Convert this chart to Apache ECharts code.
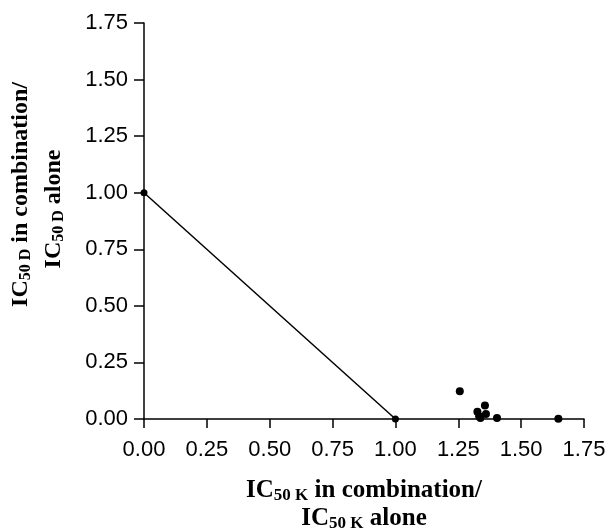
<!DOCTYPE html>
<html><head><meta charset="utf-8">
<script src="https://cdn.jsdelivr.net/npm/echarts@6/dist/echarts.min.js"></script>
<style>html,body{margin:0;padding:0;background:#fff}#c{width:609px;height:531px}</style>
</head><body><div id="c"></div>
<script>
var additivityLine = [[0, 1], [1, 0]];
var combX = [1.256, 1.356, 1.326, 1.360, 1.333, 1.338, 1.404, 1.648];
var combY = [0.123, 0.060, 0.032, 0.022, 0.012, 0.004, 0.004, 0.001];
var pts = combX.map(function(x, i){ return [x, combY[i]]; });
var serif = 'Liberation Serif';
function richFor(fs, lh, tailPad) {
  return {
    a: {fontFamily: serif, fontWeight: 'bold', fontSize: fs, color: '#000', lineHeight: lh},
    s: {fontFamily: serif, fontWeight: 'bold', fontSize: Math.round(fs * 0.67), color: '#000', lineHeight: lh, padding: [10, 0, 0, 0]},
    t: {fontFamily: serif, fontWeight: 'bold', fontSize: fs, color: '#000', lineHeight: lh, padding: [0, tailPad, 0, 0]}
  };
}
var chart = echarts.init(document.getElementById('c'));
chart.setOption({
  animation: false,
  grid: {left: 144, right: 25, top: 23, bottom: 112, containLabel: false, outerBoundsMode: 'none'},
  xAxis: {
    type: 'value', min: 0, max: 1.75, interval: 0.25,
    axisLine: {lineStyle: {color: '#000', width: 1.5}},
    axisTick: {length: 9, lineStyle: {color: '#000', width: 1.5}},
    splitLine: {show: false},
    axisLabel: {color: '#000', fontFamily: 'Liberation Sans', fontSize: 22, margin: 20,
      formatter: function(v){ return v.toFixed(2); }},
    name: '{a|IC}{s|50 K}{a| in combination/}\n{a|IC}{s|50 K}{a| alone}',
    nameLocation: 'middle', nameGap: 58,
    nameTextStyle: {rich: richFor(25, 28, 0), align: 'center'}
  },
  yAxis: {
    type: 'value', min: 0, max: 1.75, interval: 0.25,
    axisLine: {lineStyle: {color: '#000', width: 1.5}},
    axisTick: {length: 10, lineStyle: {color: '#000', width: 1.5}},
    splitLine: {show: false},
    axisLabel: {color: '#000', fontFamily: 'Liberation Sans', fontSize: 22, margin: 16,
      formatter: function(v){ return v.toFixed(2); }},
    name: '{a|IC}{s|50 D}{a| in combination/}\n{a|IC}{s|50 D}{t| alone}',
    nameLocation: 'middle', nameGap: 74,
    nameTextStyle: {rich: richFor(24, 33, 29), align: 'center', padding: [0, 0, 0, 53]}
  },
  series: [
    {type: 'line', data: additivityLine, symbol: 'circle', symbolSize: 7,
      lineStyle: {color: '#000', width: 1.5}, itemStyle: {color: '#000', opacity: 1}},
    {type: 'scatter', data: pts, symbol: 'circle', symbolSize: 8, itemStyle: {color: '#000', opacity: 1}}
  ]
});
</script></body></html>
